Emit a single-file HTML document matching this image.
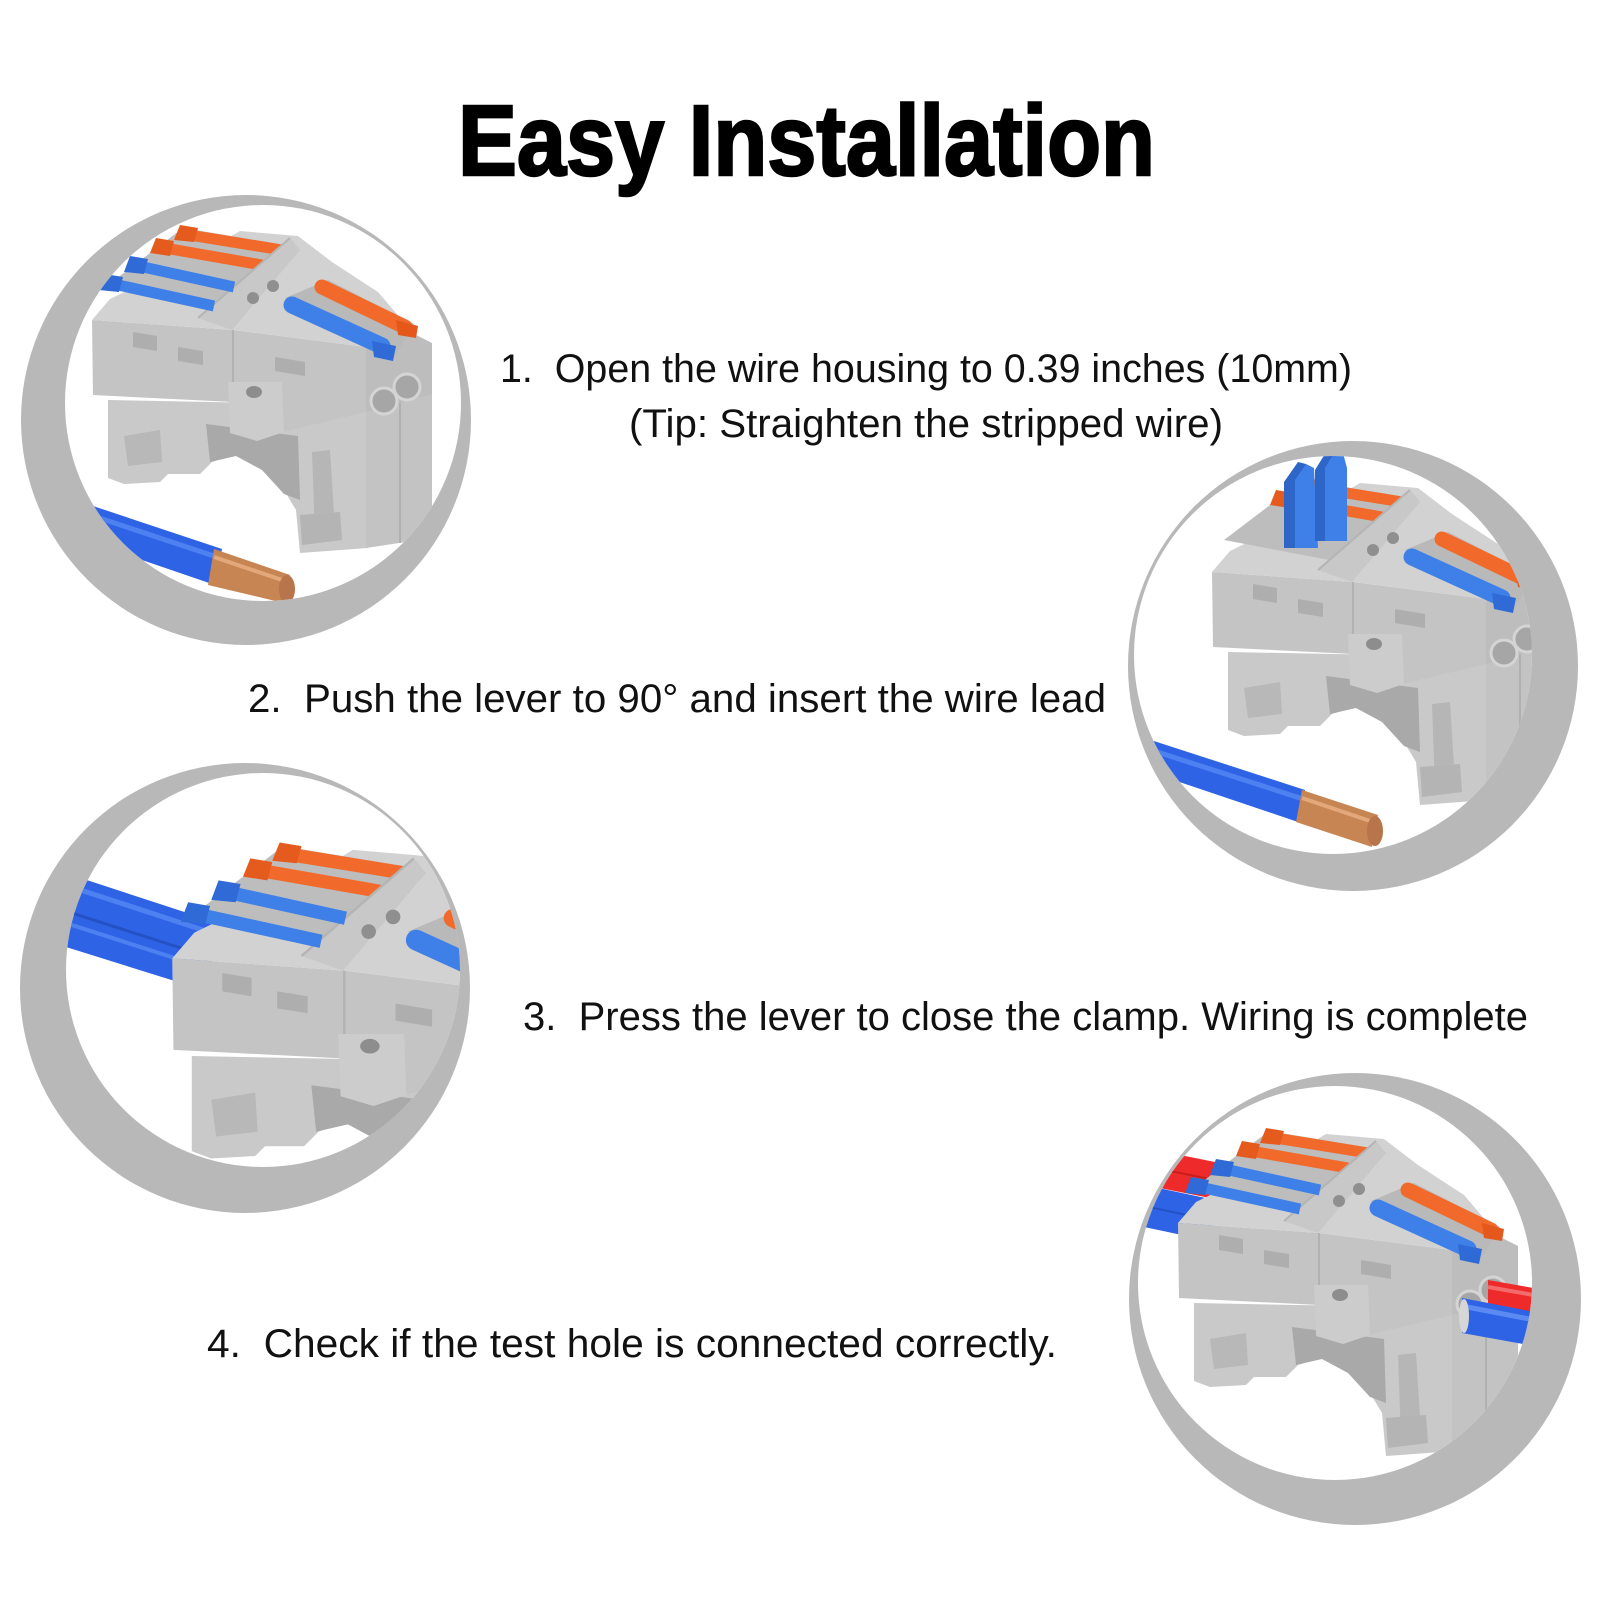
<!DOCTYPE html>
<html>
<head>
<meta charset="utf-8">
<style>
html,body{margin:0;padding:0;background:#fff;}
svg{display:block;}
</style>
</head>
<body>
<svg width="1600" height="1600" viewBox="0 0 1600 1600" xmlns="http://www.w3.org/2000/svg">
<defs>
  <clipPath id="c1"><circle cx="263" cy="403" r="198"/></clipPath>
  <clipPath id="c2"><circle cx="1333" cy="655" r="199"/></clipPath>
  <clipPath id="c3"><circle cx="263" cy="970" r="197"/></clipPath>
  <clipPath id="c4"><circle cx="1335" cy="1283" r="197"/></clipPath>

  <g id="body">
    <!-- foot -->
    <polygon fill="#c9c9c9" points="108,400 368,405 368,548 300,553 296,510 284,490 262,468 234,455 212,462 200,474 168,474 160,482 124,484 108,478"/>
    <polygon fill="#a9a9a9" points="206,424 298,436 300,500 284,494 262,470 236,456 210,462"/>
    <polygon fill="#b8b8b8" points="124,436 160,430 162,462 128,466"/>
    <polygon fill="#b6b6b6" points="312,452 330,450 335,530 315,535"/>
    <polygon fill="#b4b4b4" points="300,515 340,512 342,540 302,545"/>
    <!-- right lower block -->
    <polygon fill="#c3c3c3" points="366,405 432,392 432,538 366,548"/>
    <line x1="400" y1="400" x2="400" y2="543" stroke="#b0b0b0" stroke-width="2"/>
    <!-- front face -->
    <polygon fill="#c4c4c4" points="92,320 233,330 366,347 366,412 282,432 233,402 93,395"/>
    <line x1="233" y1="330" x2="233" y2="402" stroke="#b2b2b2" stroke-width="2"/>
    <!-- slots -->
    <polygon fill="#aeaeae" points="133,332 157,336 157,351 133,347"/>
    <polygon fill="#aeaeae" points="178,347 203,351 203,365 178,361"/>
    <polygon fill="#aeaeae" points="275,357 305,362 305,376 275,371"/>
    <!-- right end face -->
    <polygon fill="#bdbdbd" points="366,347 412,333 432,343 432,394 366,412"/>
    <circle cx="384" cy="401" r="13" fill="#a6a6a6" stroke="#d4d4d4" stroke-width="3"/>
    <circle cx="407" cy="387" r="13" fill="#a6a6a6" stroke="#d4d4d4" stroke-width="3"/>
    <!-- top face -->
    <polygon fill="#d2d2d2" points="92,320 110,299 200,255 240,231 298,236 332,262 378,292 413,333 366,347 233,330"/>
    <!-- channels -->
    <polygon fill="#b9b9b9" points="285,298 328,280 414,324 396,354"/>
    <polygon fill="#bdbdbd" points="104,288 183,228 292,246 220,310"/>
    <!-- right levers -->
    <line x1="322" y1="287" x2="405" y2="327" stroke="#f26a2b" stroke-width="15" stroke-linecap="round"/>
    <line x1="292" y1="305" x2="382" y2="346" stroke="#3f80e8" stroke-width="17" stroke-linecap="round"/>
    <polygon fill="#e4581c" points="396,320 418,326 416,338 398,335"/>
    <polygon fill="#2f6ad6" points="372,341 396,346 393,361 374,357"/>
    <!-- left orange levers -->
    <line x1="183" y1="234" x2="282" y2="250" stroke="#f26a2b" stroke-width="11"/>
    <line x1="159" y1="247" x2="262" y2="265" stroke="#f26a2b" stroke-width="11"/>
    <polygon fill="#e55a1d" points="174,240 180,225 198,228 194,242"/>
    <polygon fill="#e55a1d" points="150,253 156,238 174,241 170,256"/>
    <!-- ridge -->
    <polygon fill="#c8c8c8" points="198,318 232,330 300,250 290,238"/>
    <line x1="198" y1="318" x2="290" y2="238" stroke="#b4b4b4" stroke-width="2"/>
    <!-- top holes -->
    <circle cx="273" cy="286" r="6" fill="#8f8f8f"/>
    <circle cx="253" cy="298" r="6" fill="#8f8f8f"/>
    <!-- mount tab -->
    <polygon fill="#cccccc" points="228,382 282,382 284,432 257,441 230,433"/>
    <ellipse cx="254" cy="392" rx="8" ry="6" fill="#8d8d8d"/>
  </g>

  <g id="blueL">
    <line x1="134" y1="265" x2="234" y2="287" stroke="#3f80e8" stroke-width="11"/>
    <line x1="109" y1="283" x2="214" y2="306" stroke="#3f80e8" stroke-width="11"/>
    <polygon fill="#2f6ad6" points="124,272 130,256 148,259 144,274"/>
    <polygon fill="#2f6ad6" points="99,290 105,274 123,277 119,292"/>
  </g>
</defs>

<rect width="1600" height="1600" fill="#ffffff"/>

<!-- Title -->
<text x="458" y="175" font-family="Liberation Sans, Arial, sans-serif" font-weight="bold" font-size="100" fill="#000" stroke="#000" stroke-width="2.5" textLength="697" lengthAdjust="spacingAndGlyphs">Easy Installation</text>

<!-- Texts -->
<g font-family="Liberation Sans, Arial, sans-serif" font-size="40" fill="#111" style="white-space:pre">
  <text x="500" y="382" textLength="852" lengthAdjust="spacingAndGlyphs" xml:space="preserve">1.  Open the wire housing to 0.39 inches (10mm)</text>
  <text x="629" y="437" textLength="594" lengthAdjust="spacingAndGlyphs">(Tip: Straighten the stripped wire)</text>
  <text x="248" y="712" textLength="858" lengthAdjust="spacingAndGlyphs" xml:space="preserve">2.  Push the lever to 90° and insert the wire lead</text>
  <text x="523" y="1030" textLength="1005" lengthAdjust="spacingAndGlyphs" xml:space="preserve">3.  Press the lever to close the clamp. Wiring is complete</text>
  <text x="207" y="1357" textLength="850" lengthAdjust="spacingAndGlyphs" xml:space="preserve">4.  Check if the test hole is connected correctly.</text>
</g>

<!-- Circle 1 -->
<circle cx="246" cy="420" r="225" fill="#b8b8b8"/>
<circle cx="263" cy="403" r="198" fill="#ffffff"/>
<g clip-path="url(#c1)">
  <use href="#body"/>
  <use href="#blueL"/>
  <polygon fill="#2f63e6" points="60,495 222,549 215,585 60,532"/>
  <line x1="60" y1="505" x2="220" y2="558" stroke="#4d80f0" stroke-width="5"/>
  <polygon fill="#c78553" points="214,549 290,575 284,603 208,585"/>
  <line x1="214" y1="557" x2="288" y2="582" stroke="#e3a77a" stroke-width="4"/>
  <ellipse cx="287" cy="589" rx="8" ry="14" fill="#b8744a"/>
</g>

<!-- Circle 2 -->
<circle cx="1353" cy="666" r="225" fill="#b8b8b8"/>
<circle cx="1333" cy="655" r="199" fill="#ffffff"/>
<g clip-path="url(#c2)">
  <use href="#body" transform="translate(1120,252)"/>
  <!-- raised blue levers -->
  <polygon fill="#2e66c8" points="1284,548 1284,482 1298,462 1306,464 1306,548"/>
  <polygon fill="#3f80e8" points="1295,548 1295,480 1306,464 1314,468 1318,548"/>
  <polygon fill="#2e66c8" points="1315,541 1315,470 1328,449 1336,450 1336,541"/>
  <polygon fill="#3f80e8" points="1325,541 1325,468 1336,450 1343,453 1347,468 1347,541"/>
  <polygon fill="#2f63e6" points="1120,730 1305,790 1298,822 1120,762"/>
  <line x1="1120" y1="740" x2="1303" y2="799" stroke="#4d80f0" stroke-width="5"/>
  <polygon fill="#c78553" points="1302,790 1378,815 1372,847 1296,822"/>
  <line x1="1302" y1="798" x2="1376" y2="823" stroke="#e3a77a" stroke-width="4"/>
  <ellipse cx="1375" cy="831" rx="8" ry="15" fill="#b8744a"/>
</g>

<!-- Circle 3 -->
<circle cx="245" cy="988" r="225" fill="#b8b8b8"/>
<circle cx="263" cy="970" r="197" fill="#ffffff"/>
<g clip-path="url(#c3)">
  <polygon fill="#2f63e6" points="50,868 215,922 210,992 50,942"/>
  <line x1="50" y1="880" x2="212" y2="933" stroke="#4d80f0" stroke-width="5"/>
  <line x1="50" y1="906" x2="212" y2="958" stroke="#2451c4" stroke-width="3"/>
  <line x1="50" y1="918" x2="212" y2="970" stroke="#4d80f0" stroke-width="4"/>
  <g transform="matrix(1.22 0 0 1.22 60 568)">
    <use href="#body"/>
    <use href="#blueL"/>
  </g>
</g>

<!-- Circle 4 -->
<circle cx="1355" cy="1299" r="226" fill="#b8b8b8"/>
<circle cx="1335" cy="1283" r="197" fill="#ffffff"/>
<g clip-path="url(#c4)">
  <polygon fill="#ee2a2a" points="1130,1145 1220,1163 1220,1200 1130,1182"/>
  <line x1="1130" y1="1163" x2="1220" y2="1181" stroke="#c81e1e" stroke-width="2"/>
  <polygon fill="#2f63e6" points="1130,1182 1215,1200 1215,1242 1130,1224"/>
  <line x1="1130" y1="1203" x2="1215" y2="1221" stroke="#2451c4" stroke-width="2"/>
  <use href="#body" transform="translate(1086,903)"/>
  <use href="#blueL" transform="translate(1086,903)"/>
  <polygon fill="#ee2a2a" points="1488,1280 1545,1290 1545,1320 1488,1310"/>
  <line x1="1488" y1="1287" x2="1545" y2="1297" stroke="#f56a6a" stroke-width="4"/>
  <polygon fill="#2f63e6" points="1462,1298 1545,1314 1545,1348 1462,1333"/>
  <line x1="1462" y1="1306" x2="1545" y2="1322" stroke="#5a8af2" stroke-width="5"/>
  <ellipse cx="1464" cy="1316" rx="5" ry="17" fill="#d6d6d6"/>
</g>

</svg>
</body>
</html>
